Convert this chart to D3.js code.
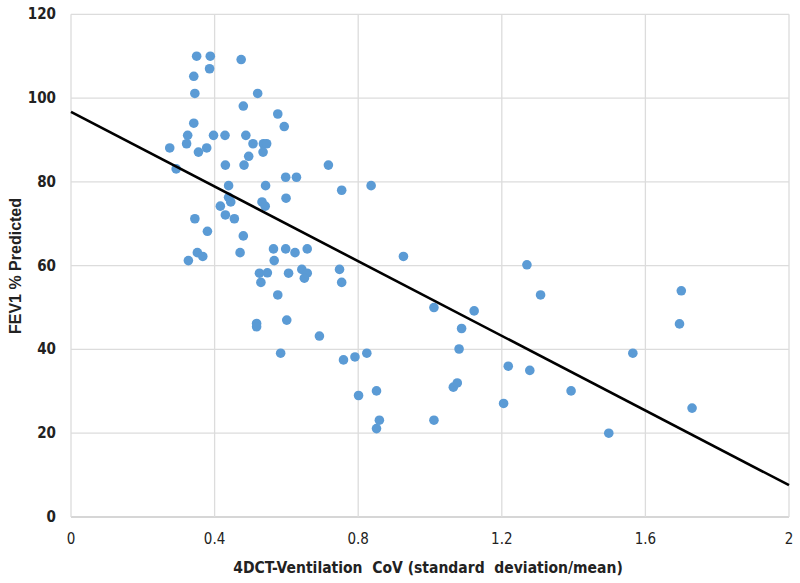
<!DOCTYPE html>
<html><head><meta charset="utf-8">
<script src="https://cdn.jsdelivr.net/npm/d3@7"></script>
<style>body{margin:0;background:#fff}svg{display:block}</style>
</head><body>
<svg id="c" width="800" height="583"></svg>
<script>
const covX = [0.35,0.388,0.386,0.474,0.342,0.345,0.520,0.480,0.576,0.594,0.342,0.325,0.397,0.429,0.487,0.322,0.507,0.536,0.545,0.275,0.378,0.355,0.535,0.495,0.430,0.482,0.717,0.293,0.598,0.628,0.439,0.542,0.836,0.754,0.439,0.445,0.599,0.532,0.541,0.416,0.430,0.455,0.345,0.380,0.480,0.471,0.352,0.367,0.327,0.564,0.598,0.658,0.624,0.566,0.525,0.547,0.529,0.606,0.643,0.658,0.650,0.748,0.754,0.576,0.517,0.517,0.601,0.692,0.584,0.759,0.791,0.824,0.926,1.270,1.308,1.700,1.695,1.011,1.123,1.088,1.081,1.565,1.218,1.278,1.393,0.801,0.851,1.065,1.076,1.730,1.205,0.859,0.851,1.011,1.498];
const fev1 = [110,110,107,109.2,105.2,101.1,101.1,98.1,96.2,93.2,94.0,91.1,91.1,91.1,91.1,89.1,89.1,89.1,89.1,88.1,88.1,87.1,87.1,86.1,84.0,84.0,84.0,83.1,81.1,81.1,79.1,79.1,79.1,78.0,76.3,75.2,76.1,75.2,74.2,74.2,72.1,71.2,71.2,68.2,67.1,63.1,63.1,62.2,61.2,64.0,64.0,64.0,63.1,61.2,58.2,58.3,56.0,58.2,59.1,58.2,57.0,59.1,56.0,53.0,46.2,45.4,47.0,43.2,39.1,37.5,38.2,39.1,62.2,60.2,53.0,54.0,46.1,50.0,49.2,45.0,40.1,39.1,36.0,35.0,30.1,29.0,30.1,31.0,32.0,26.0,27.1,23.1,21.1,23.1,20.0];
const trendX = [0, 2];
const trendY = [96.7, 7.6];
const xTicks = [0, 0.4, 0.8, 1.2, 1.6, 2];
const yTicks = [0, 20, 40, 60, 80, 100, 120];

const svg = d3.select("#c");
const x = d3.scaleLinear().domain([0, 2]).range([71, 789]);
const y = d3.scaleLinear().domain([0, 120]).range([517, 14.3]);
const tickFont = "'Liberation Sans Narrow','DejaVu Sans Condensed',sans-serif";

// gridlines
svg.append("g").selectAll("line.h").data(yTicks).join("line")
  .attr("x1", x(0)).attr("x2", x(2)).attr("y1", d => y(d)).attr("y2", d => y(d))
  .attr("stroke", d => d === 0 ? "#c8c8c8" : "#dcdcdc").attr("stroke-width", 1.3);
svg.append("g").selectAll("line.v").data(xTicks).join("line")
  .attr("x1", d => x(d)).attr("x2", d => x(d)).attr("y1", y(0)).attr("y2", y(120))
  .attr("stroke", "#dcdcdc").attr("stroke-width", 1.3);

// tick labels
svg.append("g").selectAll("text").data(xTicks).join("text")
  .attr("x", d => x(d)).attr("y", 544).attr("text-anchor", "middle")
  .attr("font-family", tickFont).attr("font-size", 15).attr("fill", "#222")
  .text(d => d3.format("")(d));
svg.append("g").selectAll("text").data(yTicks).join("text")
  .attr("x", 56).attr("y", d => y(d) + 5).attr("text-anchor", "end")
  .attr("font-family", tickFont).attr("font-size", 15).attr("font-weight", "bold").attr("fill", "#222")
  .text(d => d);

// points
svg.append("g").selectAll("circle").data(covX.map((v, i) => [v, fev1[i]])).join("circle")
  .attr("cx", d => x(d[0])).attr("cy", d => y(d[1])).attr("r", 4.8)
  .attr("fill", "#5b9bd5");

// trend line
svg.append("path").datum(trendX.map((v, i) => [v, trendY[i]]))
  .attr("d", d3.line().x(d => x(d[0])).y(d => y(d[1])))
  .attr("stroke", "#000").attr("stroke-width", 2.6).attr("fill", "none");

// axis titles
svg.append("text").attr("x", 428).attr("y", 573).attr("text-anchor", "middle")
  .attr("font-family", tickFont).attr("font-size", 15.5).attr("font-weight", "bold").attr("fill", "#222")
  .attr("xml:space", "preserve").style("white-space", "pre")
  .text("4DCT-Ventilation  CoV (standard  deviation/mean)");
svg.append("text").attr("transform", "translate(21,266) rotate(-90)").attr("text-anchor", "middle")
  .attr("font-family", "'Liberation Sans','Arial',sans-serif").attr("font-size", 16).attr("font-weight", "bold").attr("fill", "#222")
  .text("FEV1 % Predicted");
</script>
</body></html>
